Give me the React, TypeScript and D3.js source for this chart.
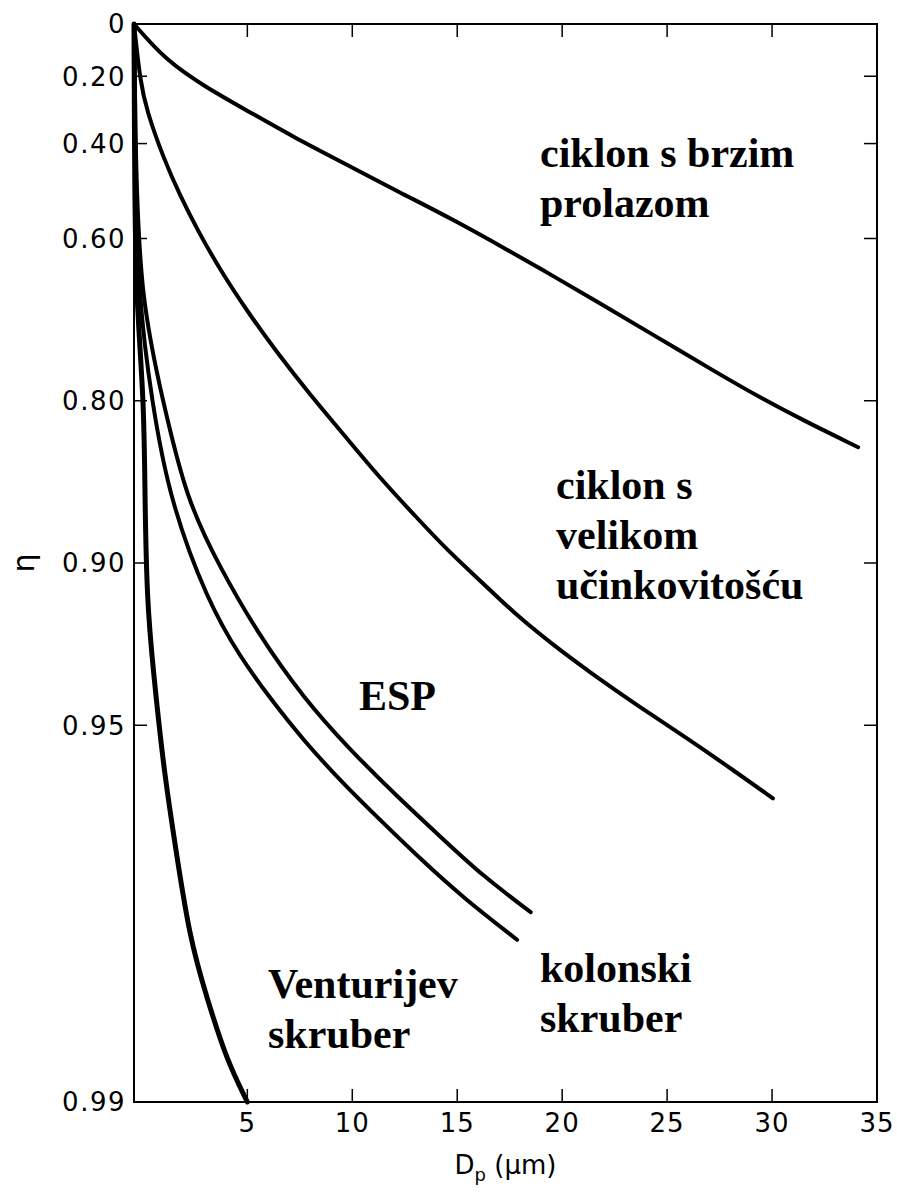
import React from 'react';
import * as d3 from 'd3';

// Dp (µm) and collection efficiency η
const fastCycloneDp = [-0.4, 1.1, 3.0, 5.1, 7.2, 9.6, 12.3, 14.7, 17.5, 19.5, 21.7, 24.2, 27.4, 29.6, 31.6, 34.1];
const fastCycloneEta = [0, 0.143, 0.236, 0.313, 0.383, 0.448, 0.514, 0.564, 0.621, 0.658, 0.695, 0.733, 0.775, 0.799, 0.817, 0.836];

const hiEffCycloneDp = [-0.4, -0.1, 0.2, 1.0, 1.8, 2.65, 3.7, 5.0, 6.4, 8.0, 9.6, 11.3, 13.1, 14.7, 16.2, 17.66, 19.56, 21.47, 23.71, 26.09, 28.14, 30.04];
const hiEffCycloneEta = [0, 0.22, 0.308, 0.436, 0.52, 0.587, 0.65, 0.707, 0.754, 0.795, 0.827, 0.856, 0.879, 0.896, 0.908, 0.919, 0.9295, 0.9379, 0.946, 0.9531, 0.9587, 0.9634];

const espDp = [-0.4, -0.33, -0.1, 1.0, 2.1, 3.7, 5.5, 7.7, 9.9, 12.1, 14.3, 16.2, 18.5];
const espEta = [0, 0.42, 0.69, 0.802, 0.869, 0.902, 0.926, 0.944, 0.955, 0.963, 0.9692, 0.9737, 0.9775];

const columnDp = [-0.4, -0.36, -0.2, 0.46, 1.3, 3.1, 4.65, 6.1, 7.65, 9.55, 11.45, 13.35, 15.25, 17.85];
const columnEta = [0, 0.42, 0.69, 0.802, 0.869, 0.915, 0.933, 0.944, 0.953, 0.961, 0.967, 0.972, 0.976, 0.98];

const venturiDp = [-0.4, -0.37, -0.3, 0.08, 0.12, 0.22, 0.5, 1.0, 1.45, 2.25, 3.1, 4.0, 5.0];
const venturiEta = [0, 0.5, 0.69, 0.8, 0.869, 0.915, 0.936, 0.958, 0.968, 0.98, 0.9845, 0.988, 0.99];

const xTicks = [5, 10, 15, 20, 25, 30, 35];
const etaTicks = [0, 0.2, 0.4, 0.6, 0.8, 0.9, 0.95, 0.99];

const curves = [
  { dp: fastCycloneDp, eta: fastCycloneEta, w: 4 },
  { dp: hiEffCycloneDp, eta: hiEffCycloneEta, w: 4 },
  { dp: espDp, eta: espEta, w: 4 },
  { dp: columnDp, eta: columnEta, w: 4 },
  { dp: venturiDp, eta: venturiEta, w: 5 },
];

// annotation text, pixel anchors
const notes = [
  { lines: ['ciklon s brzim', 'prolazom'], x: 540, y: 167 },
  { lines: ['ciklon s', 'velikom', 'učinkovitošću'], x: 556, y: 499 },
  { lines: ['ESP'], x: 359, y: 710 },
  { lines: ['kolonski', 'skruber'], x: 540, y: 982 },
  { lines: ['Venturijev', 'skruber'], x: 268, y: 998 },
];

const W = 897;
const H = 1196;
const margin = { top: 24, right: 20, bottom: 94, left: 134 };

export default function App() {
  const x = d3.scaleLinear().domain([-0.4, 35]).range([margin.left, W - margin.right]);
  // efficiency axis is logarithmic in (1 - η)
  const yLog = d3.scaleLog().domain([1, 0.01]).range([margin.top, H - margin.bottom]);
  const y = (eta: number) => yLog(1 - eta);

  const line = d3
    .line<[number, number]>()
    .x((d) => x(d[0]))
    .y((d) => y(d[1]))
    .curve(d3.curveBasis);

  const x0 = x.range()[0];
  const x1 = x.range()[1];
  const y0 = yLog.range()[0];
  const y1 = yLog.range()[1];
  const tickLen = 13;
  const tickFont = "'DejaVu Sans', sans-serif";

  return (
    <svg width={W} height={H} style={{ position: 'absolute', left: 0, top: 0, background: '#fff' }}>
      <rect x={x0} y={y0} width={x1 - x0} height={y1 - y0} fill="none" stroke="#000" strokeWidth={2} />

      {xTicks.filter((t) => t < 35).map((t) => (
        <g key={'xt' + t} stroke="#000" strokeWidth={1.5}>
          <line x1={x(t)} x2={x(t)} y1={y0} y2={y0 + tickLen} />
          <line x1={x(t)} x2={x(t)} y1={y1} y2={y1 - tickLen} />
        </g>
      ))}
      {xTicks.map((t) => (
        <text key={'xl' + t} x={x(t)} y={y1 + 30} textAnchor="middle" fontFamily={tickFont} fontSize={26} letterSpacing={1}>
          {t}
        </text>
      ))}

      {etaTicks.filter((t) => t > 0 && t < 0.99).map((t) => (
        <g key={'yt' + t} stroke="#000" strokeWidth={1.5}>
          <line x1={x0} x2={x0 + tickLen} y1={y(t)} y2={y(t)} />
          <line x1={x1} x2={x1 - tickLen} y1={y(t)} y2={y(t)} />
        </g>
      ))}
      {etaTicks.map((t) => (
        <text key={'yl' + t} x={x0 - 8} y={y(t)} dy="0.36em" textAnchor="end" fontFamily={tickFont} fontSize={26} letterSpacing={1.5}>
          {t === 0 ? '0' : t.toFixed(2)}
        </text>
      ))}

      <text transform={`translate(34, ${y(0.9)}) rotate(-90)`} textAnchor="middle" fontFamily={tickFont} fontSize={30}>
        η
      </text>
      <text x={(x0 + x1) / 2} y={y1 + 72} textAnchor="middle" fontFamily={tickFont} fontSize={26}>
        D<tspan fontSize={18} dy={7}>p</tspan>
        <tspan dy={-7}> (μm)</tspan>
      </text>

      {curves.map((c, i) => (
        <path
          key={'c' + i}
          d={line(c.dp.map((d, j) => [d, c.eta[j]] as [number, number])) || ''}
          fill="none"
          stroke="#000"
          strokeWidth={c.w}
          strokeLinecap="round"
          strokeLinejoin="round"
        />
      ))}

      {notes.map((n, i) => (
        <text key={'n' + i} fontFamily="'Liberation Serif', 'Times New Roman', serif" fontWeight="bold" fontSize={42}>
          {n.lines.map((s, j) => (
            <tspan key={j} x={n.x} y={n.y + j * 50}>
              {s}
            </tspan>
          ))}
        </text>
      ))}
    </svg>
  );
}
